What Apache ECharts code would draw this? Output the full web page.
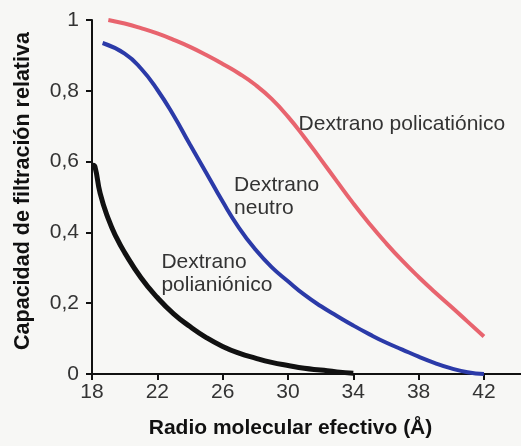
<!DOCTYPE html>
<html><head><meta charset="utf-8">
<script src="https://cdn.jsdelivr.net/npm/echarts@6/dist/echarts.min.js"></script>
<style>html,body{margin:0;padding:0;background:#f7f7f5}#c{width:521px;height:446px}</style>
</head><body><div id="c"></div>
<script>
// Data
var xTicks = [18, 22, 26, 30, 34, 38, 42];
var yTicks = [0, 0.2, 0.4, 0.6, 0.8, 1];

var cationX = [19, 20, 21, 22, 23, 24, 25, 26, 27, 28, 29, 30, 31, 32, 33, 34, 35, 36, 37, 38, 39, 40, 41, 42];
var cationY = [1.0, 0.99, 0.977, 0.962, 0.944, 0.924, 0.901, 0.876, 0.849, 0.817, 0.777, 0.727, 0.669, 0.607, 0.544, 0.482, 0.424, 0.37, 0.32, 0.274, 0.231, 0.19, 0.148, 0.106];

var neutralX = [18.65, 20, 21, 22, 23, 24, 25, 26, 27, 28, 29, 30, 31, 32, 33, 34, 35, 36, 37, 38, 39, 40, 41, 42];
var neutralY = [0.935, 0.905, 0.863, 0.803, 0.73, 0.648, 0.568, 0.487, 0.413, 0.352, 0.302, 0.262, 0.224, 0.192, 0.164, 0.137, 0.112, 0.089, 0.069, 0.049, 0.031, 0.016, 0.005, 0];

var anionX = [18.05, 18.18, 18.5, 19, 19.5, 20, 21, 22, 23, 24, 25, 26, 27, 28, 29, 30, 31, 32, 33, 34];
var anionY = [0.59, 0.586, 0.51, 0.438, 0.385, 0.343, 0.272, 0.216, 0.17, 0.134, 0.103, 0.078, 0.059, 0.045, 0.033, 0.024, 0.016, 0.011, 0.006, 0.002];

var labels = [
  {lines: ['Dextrano policatiónico'], at: [30.65, 0.706]},
  {lines: ['Dextrano', 'neutro'], at: [26.7, 0.535]},
  {lines: ['Dextrano', 'polianiónico'], at: [22.25, 0.316]}
];

function pairs(xs, ys) { return xs.map(function (x, i) { return [x, ys[i]]; }); }

var chart = echarts.init(document.getElementById('c'));
var FONT = '"Liberation Sans", Arial, sans-serif';
var option = {
  backgroundColor: '#f7f7f5',
  animation: false,
  grid: {left: 92, right: 0, top: 20, bottom: 72, containLabel: false},
  xAxis: {
    type: 'value', min: 18, max: 44.27,
    name: 'Radio molecular efectivo (Å)', nameLocation: 'middle', nameGap: 44,
    nameTextStyle: {fontFamily: FONT, fontSize: 21, fontWeight: 'bold', color: '#111', padding: [0, 32, 0, 0]},
    axisLine: {show: true, lineStyle: {color: '#111', width: 2}},
    axisTick: {show: true, length: 6, lineStyle: {color: '#111', width: 2}, customValues: xTicks},
    axisLabel: {fontFamily: FONT, fontSize: 21, color: '#333', margin: 8, customValues: xTicks},
    splitLine: {show: false}
  },
  yAxis: {
    type: 'value', min: 0, max: 1, interval: 0.2,
    name: 'Capacidad de filtración relativa', nameLocation: 'middle', nameGap: 58,
    nameTextStyle: {fontFamily: FONT, fontSize: 21.5, fontWeight: 'bold', color: '#111', padding: [0, 0, 0, 12]},
    axisLine: {show: true, lineStyle: {color: '#111', width: 2}},
    axisTick: {show: true, length: 6, lineStyle: {color: '#111', width: 2}},
    axisLabel: {fontFamily: FONT, fontSize: 21, color: '#333', margin: 13,
      formatter: function (v) { return String(Math.round(v * 10) / 10).replace('.', ','); }},
    splitLine: {show: false}
  },
  series: [
    {type: 'line', data: pairs(cationX, cationY), smooth: true, symbol: 'none',
      lineStyle: {color: '#e8646e', width: 4}},
    {type: 'line', data: pairs(neutralX, neutralY), smooth: true, symbol: 'none',
      lineStyle: {color: '#2b3aa8', width: 4}},
    {type: 'line', data: pairs(anionX, anionY), smooth: true, symbol: 'none',
      lineStyle: {color: '#111111', width: 5}}
  ]
};
chart.setOption(option);

var g = labels.map(function (l) {
  var p = chart.convertToPixel({gridIndex: 0}, l.at);
  return {type: 'text', left: p[0], top: p[1] - 11,
    style: {text: l.lines.join('\n'), font: '21px ' + FONT, fill: '#333', lineHeight: 23}};
});
chart.setOption({graphic: g});
</script></body></html>
